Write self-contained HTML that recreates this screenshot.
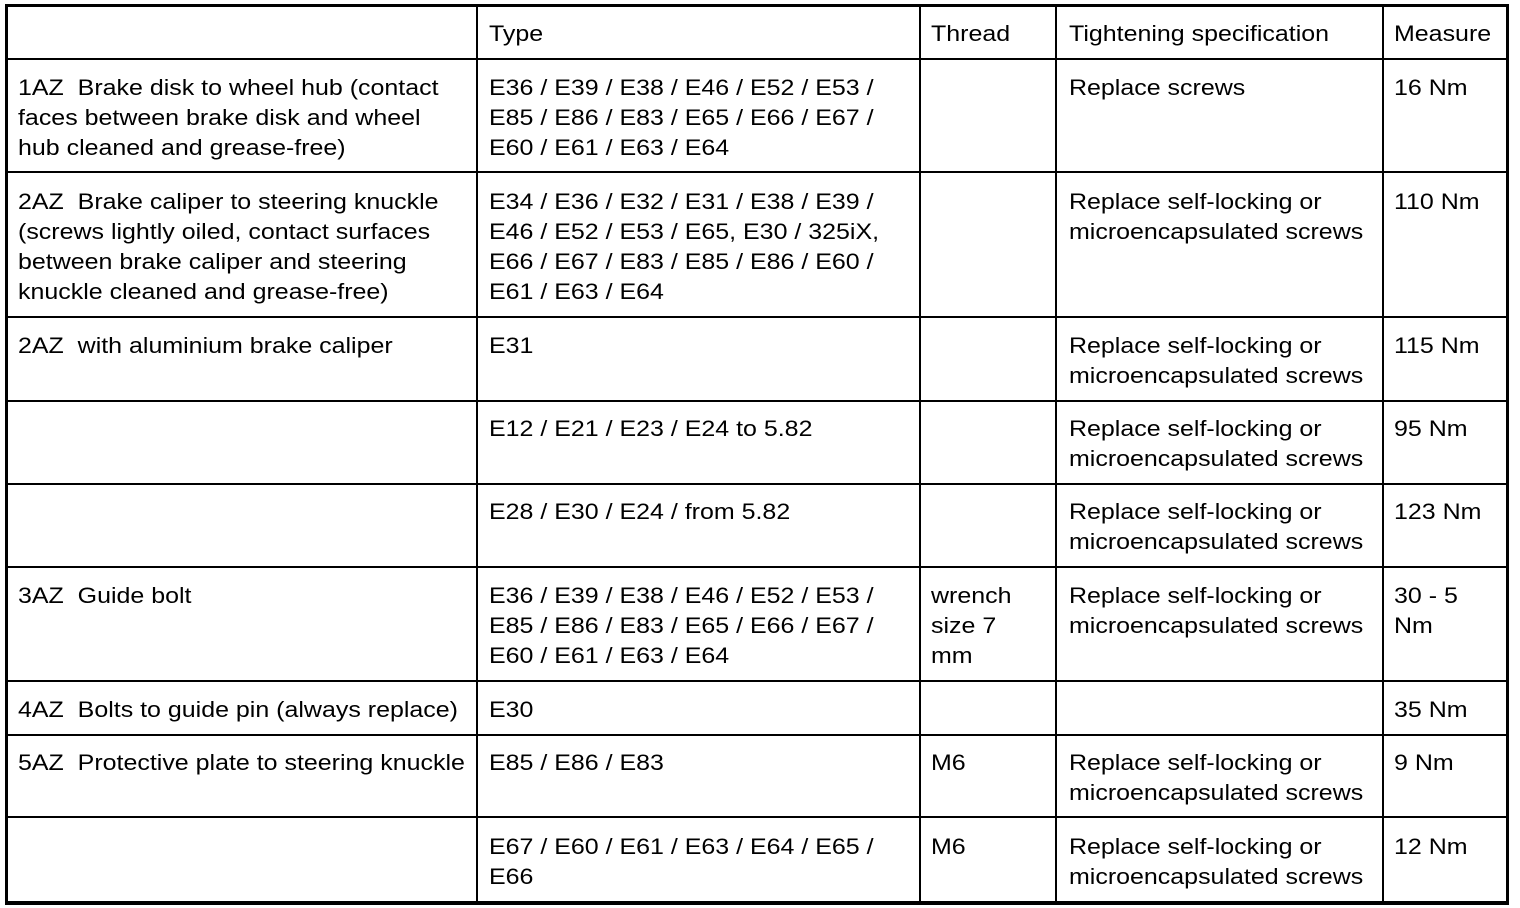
<!DOCTYPE html>
<html><head><style>
body{margin:0;width:1520px;height:908px;background:#fff;position:relative;overflow:hidden;font-family:"Liberation Sans",Arial,sans-serif;}
.h{position:absolute;background:#000;height:2px;left:6px;width:1501px}
.v{position:absolute;background:#000;width:2px;top:6px;height:896px}
.t{position:absolute;font-size:22px;line-height:30px;white-space:nowrap;color:#000;transform:scaleX(1.135);transform-origin:0 0}
#box{position:absolute;left:5px;top:4px;width:1498px;height:894px;border:3px solid #000;border-bottom-width:4px}
</style></head><body>
<div id="box"></div>
<div class="v" style="left:476px"></div>
<div class="v" style="left:919px"></div>
<div class="v" style="left:1055px"></div>
<div class="v" style="left:1382px"></div>
<div class="h" style="top:58px"></div>
<div class="h" style="top:171px"></div>
<div class="h" style="top:316px"></div>
<div class="h" style="top:400px"></div>
<div class="h" style="top:483px"></div>
<div class="h" style="top:566px"></div>
<div class="h" style="top:680px"></div>
<div class="h" style="top:734px"></div>
<div class="h" style="top:816px"></div>

<div class="t" style="left:489px;top:19px">Type</div>
<div class="t" style="left:931px;top:19px">Thread</div>
<div class="t" style="left:1069px;top:19px">Tightening specification</div>
<div class="t" style="left:1394px;top:19px">Measure</div>

<div class="t" style="left:18px;top:73px">1AZ&nbsp; Brake disk to wheel hub (contact<br>faces between brake disk and wheel<br>hub cleaned and grease-free)</div>
<div class="t" style="left:489px;top:73px">E36 / E39 / E38 / E46 / E52 / E53 /<br>E85 / E86 / E83 / E65 / E66 / E67 /<br>E60 / E61 / E63 / E64</div>
<div class="t" style="left:1069px;top:73px">Replace screws</div>
<div class="t" style="left:1394px;top:73px">16 Nm</div>

<div class="t" style="left:18px;top:187px">2AZ&nbsp; Brake caliper to steering knuckle<br>(screws lightly oiled, contact surfaces<br>between brake caliper and steering<br>knuckle cleaned and grease-free)</div>
<div class="t" style="left:489px;top:187px">E34 / E36 / E32 / E31 / E38 / E39 /<br>E46 / E52 / E53 / E65, E30 / 325iX,<br>E66 / E67 / E83 / E85 / E86 / E60 /<br>E61 / E63 / E64</div>
<div class="t" style="left:1069px;top:187px">Replace self-locking or<br>microencapsulated screws</div>
<div class="t" style="left:1394px;top:187px">110 Nm</div>

<div class="t" style="left:18px;top:331px">2AZ&nbsp; with aluminium brake caliper</div>
<div class="t" style="left:489px;top:331px">E31</div>
<div class="t" style="left:1069px;top:331px">Replace self-locking or<br>microencapsulated screws</div>
<div class="t" style="left:1394px;top:331px">115 Nm</div>

<div class="t" style="left:489px;top:414px">E12 / E21 / E23 / E24 to 5.82</div>
<div class="t" style="left:1069px;top:414px">Replace self-locking or<br>microencapsulated screws</div>
<div class="t" style="left:1394px;top:414px">95 Nm</div>

<div class="t" style="left:489px;top:497px">E28 / E30 / E24 / from 5.82</div>
<div class="t" style="left:1069px;top:497px">Replace self-locking or<br>microencapsulated screws</div>
<div class="t" style="left:1394px;top:497px">123 Nm</div>

<div class="t" style="left:18px;top:581px">3AZ&nbsp; Guide bolt</div>
<div class="t" style="left:489px;top:581px">E36 / E39 / E38 / E46 / E52 / E53 /<br>E85 / E86 / E83 / E65 / E66 / E67 /<br>E60 / E61 / E63 / E64</div>
<div class="t" style="left:931px;top:581px">wrench<br>size 7<br>mm</div>
<div class="t" style="left:1069px;top:581px">Replace self-locking or<br>microencapsulated screws</div>
<div class="t" style="left:1394px;top:581px">30 - 5<br>Nm</div>

<div class="t" style="left:18px;top:695px">4AZ&nbsp; Bolts to guide pin (always replace)</div>
<div class="t" style="left:489px;top:695px">E30</div>
<div class="t" style="left:1394px;top:695px">35 Nm</div>

<div class="t" style="left:18px;top:748px">5AZ&nbsp; Protective plate to steering knuckle</div>
<div class="t" style="left:489px;top:748px">E85 / E86 / E83</div>
<div class="t" style="left:931px;top:748px">M6</div>
<div class="t" style="left:1069px;top:748px">Replace self-locking or<br>microencapsulated screws</div>
<div class="t" style="left:1394px;top:748px">9 Nm</div>

<div class="t" style="left:489px;top:832px">E67 / E60 / E61 / E63 / E64 / E65 /<br>E66</div>
<div class="t" style="left:931px;top:832px">M6</div>
<div class="t" style="left:1069px;top:832px">Replace self-locking or<br>microencapsulated screws</div>
<div class="t" style="left:1394px;top:832px">12 Nm</div>
</body></html>
